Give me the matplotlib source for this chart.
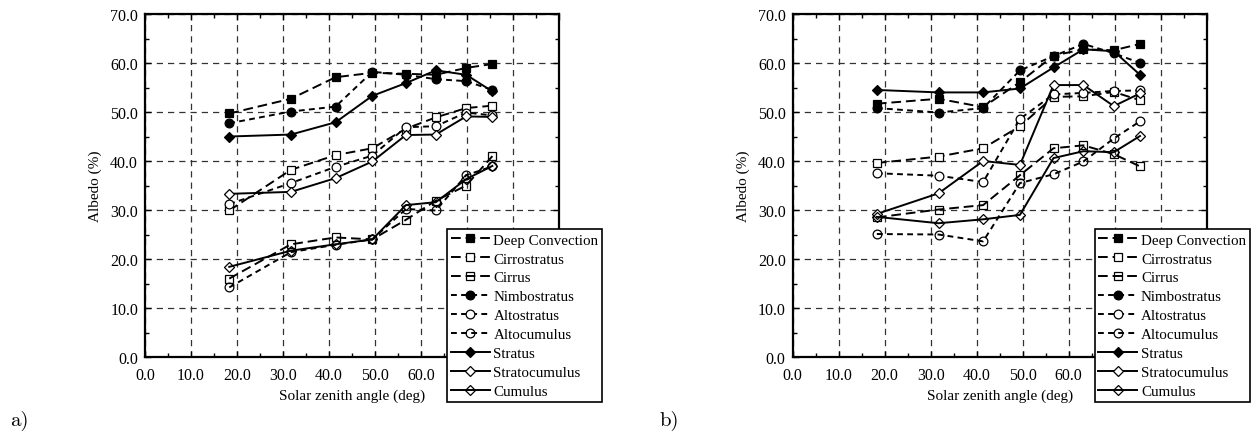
import numpy as np
import matplotlib
matplotlib.use('Agg')
from matplotlib import pyplot as plt
from matplotlib.ticker import MultipleLocator, FuncFormatter

# solar zenith angle bins (deg)
sza = [18.3, 31.7, 41.4, 49.4, 56.7, 63.2, 69.8, 75.5]

cloud_types = ['Deep Convection', 'Cirrostratus', 'Cirrus',
               'Nimbostratus', 'Altostratus', 'Altocumulus',
               'Stratus', 'Stratocumulus', 'Cumulus']

# albedo (%) per cloud type, panel a
albedo_a = {
    'Deep Convection': [49.7, 52.7, 57.1, 58.0, 57.8, 57.6, 59.0, 59.8],
    'Cirrostratus':    [29.9, 38.2, 41.2, 42.6, 46.6, 48.9, 50.8, 51.3],
    'Cirrus':          [16.0, 23.0, 24.4, 24.0, 28.0, 31.9, 35.0, 41.0],
    'Nimbostratus':    [47.7, 50.1, 51.1, 58.2, 57.6, 56.7, 56.3, 54.5],
    'Altostratus':     [31.2, 35.5, 38.8, 41.1, 46.9, 47.1, 49.9, 49.3],
    'Altocumulus':     [14.2, 21.4, 22.9, 24.0, 30.2, 29.9, 37.1, 38.9],
    'Stratus':         [45.0, 45.4, 47.9, 53.3, 55.9, 58.5, 57.6, 54.2],
    'Stratocumulus':   [33.3, 33.7, 36.5, 39.9, 45.3, 45.4, 49.1, 49.0],
    'Cumulus':         [18.4, 21.7, 23.0, 24.0, 31.0, 31.6, 36.3, 39.0],
}

# albedo (%) per cloud type, panel b
albedo_b = {
    'Deep Convection': [51.7, 52.7, 51.0, 56.1, 61.5, 62.8, 62.6, 63.9],
    'Cirrostratus':    [39.6, 40.9, 42.6, 47.1, 53.1, 53.2, 54.1, 52.4],
    'Cirrus':          [28.5, 30.1, 31.0, 37.1, 42.6, 43.2, 41.4, 38.9],
    'Nimbostratus':    [50.8, 49.9, 50.8, 58.5, 61.4, 63.9, 62.0, 60.0],
    'Altostratus':     [37.5, 37.0, 35.7, 48.6, 53.6, 53.9, 54.3, 54.4],
    'Altocumulus':     [25.1, 25.0, 23.6, 35.5, 37.3, 39.9, 44.6, 48.1],
    'Stratus':         [54.5, 54.0, 54.0, 54.8, 59.1, 62.8, 62.4, 57.6],
    'Stratocumulus':   [29.2, 33.4, 40.0, 39.2, 55.5, 55.5, 51.2, 53.8],
    'Cumulus':         [28.6, 27.3, 28.1, 29.0, 40.6, 42.0, 41.8, 45.1],
}

long_dash = (0, (5.0, 2.5))
short_dash = (0, (3.0, 2.2))
styles = {
    'Deep Convection': dict(marker='s', mfc='black', ls=long_dash, ms=5.5),
    'Cirrostratus':    dict(marker='s', mfc='white', ls=long_dash, ms=5.5),
    'Cirrus':          dict(marker='s', mfc='none', ls=long_dash, ms=5.5),
    'Nimbostratus':    dict(marker='o', mfc='black', ls=short_dash, ms=6.3),
    'Altostratus':     dict(marker='o', mfc='white', ls=short_dash, ms=6.3),
    'Altocumulus':     dict(marker='o', mfc='none', ls=short_dash, ms=6.3),
    'Stratus':         dict(marker='D', mfc='black', ls='-', ms=5),
    'Stratocumulus':   dict(marker='D', mfc='white', ls='-', ms=5),
    'Cumulus':         dict(marker='D', mfc='none', ls='-', ms=5),
}

plt.rcParams['font.family'] = ['Liberation Serif', 'DejaVu Serif']

# x labels past 60 sit under the legend box, leave them blank
xfmt = FuncFormatter(lambda v, p: '%.1f' % v if v < 65 else '')
yfmt = FuncFormatter(lambda v, p: '%.1f' % v)

fig = plt.figure(figsize=(12.57, 4.39), dpi=100)
ax_a = fig.add_axes([0.1154, 0.1845, 0.3294, 0.7813])
ax_b = fig.add_axes([0.6306, 0.1845, 0.3294, 0.7813])

for ax, data in [(ax_a, albedo_a), (ax_b, albedo_b)]:
    for name in cloud_types:
        st = styles[name]
        ax.plot(sza, data[name], color='black', lw=1.4, linestyle=st['ls'],
                marker=st['marker'], ms=st['ms'], mfc=st['mfc'],
                mec='black', mew=0.9, label=name)
    ax.set_xlim(0, 90)
    ax.set_ylim(0, 70)
    ax.xaxis.set_major_locator(MultipleLocator(10))
    ax.xaxis.set_minor_locator(MultipleLocator(5))
    ax.yaxis.set_major_locator(MultipleLocator(10))
    ax.yaxis.set_minor_locator(MultipleLocator(5))
    ax.xaxis.set_major_formatter(xfmt)
    ax.yaxis.set_major_formatter(yfmt)
    ax.tick_params(which='both', direction='in', top=True, right=True,
                   labelsize=11.5, width=1)
    ax.tick_params(which='major', length=4)
    ax.tick_params(axis='x', which='major', pad=7)
    ax.tick_params(axis='y', which='major', pad=5)
    ax.tick_params(which='minor', length=3)
    ax.grid(True, which='major', color='#333333', ls=(0, (5, 4)), lw=0.9)
    for sp in ax.spines.values():
        sp.set_linewidth(1.6)
    ax.set_xlabel('Solar zenith angle (deg)', fontsize=11, labelpad=4)
    ax.set_ylabel('Albedo (%)', fontsize=11, labelpad=6)
    leg = ax.legend(loc='upper left', bbox_to_anchor=(0.729, 0.372),
                    fontsize=10.8, handlelength=2.6, handletextpad=0.25,
                    labelspacing=0.36, borderpad=0.25, borderaxespad=0,
                    fancybox=False, framealpha=1, edgecolor='black')
    leg.get_frame().set_linewidth(1.2)
    leg.set_zorder(10)

fig.text(0.008, 0.03, 'a)', fontsize=15, family='cmr10')
fig.text(0.525, 0.03, 'b)', fontsize=15, family='cmr10')

fig.savefig('out.png', dpi=100)
